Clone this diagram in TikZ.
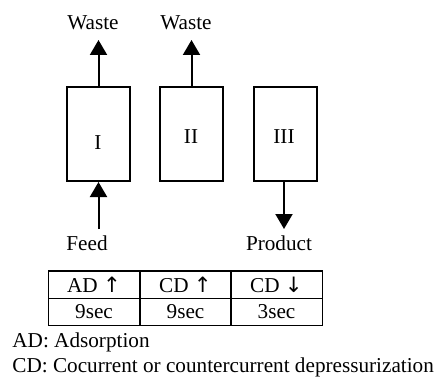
\documentclass[tikz,border=0pt]{standalone}
\usepackage{fontspec}
\setmainfont{Liberation Serif}
\newfontfamily\arrowfont{DejaVu Sans}
\usepackage{tikz}
\usetikzlibrary{arrows}
\usetikzlibrary{arrows.meta}
\usetikzlibrary{positioning}
\newcommand{\upflow}{{\arrowfont\char"2191}}
\newcommand{\downflow}{{\arrowfont\char"2193}}

\begin{document}
\begin{tikzpicture}[x=0.5pt, y=-0.5pt, font=\fontsize{10.6}{12.7}\selectfont,
    column/.style={draw, line width=1pt, minimum width=31.5pt, minimum height=47pt, inner sep=0pt},
    cell/.style={draw, line width=0.7pt, minimum width=45.7pt, minimum height=13.7pt, inner sep=0pt},
    flow/.style={line width=1pt, -{Triangle[width=8.5pt, length=7.5pt]}}]

    \useasboundingbox (0, 0) rectangle (438, 379);

    % beds
    \node [column] (c1) at (98.5, 134) {};
    \node [column] (c2) at (191.5, 134) {};
    \node [column] (c3) at (285, 134) {};
    \node (l1) at (98, 143) {I};
    \node (l2) at (191, 137) {II};
    \node (l3) at (284, 137) {III};

    % streams
    \node (w1) at (93, 23) {Waste};
    \node (w2) at (186, 23) {Waste};
    \node (feed) at (87, 243) {Feed};
    \node (prod) at (279, 243) {Product};
    \coordinate (w1tip) at (98.5, 40);
    \coordinate (w2tip) at (191.5, 40);
    \coordinate (feedtail) at (98.5, 229);
    \coordinate (prodtip) at (284, 229);

    \draw [flow] (c1.north) -- (w1tip);
    \draw [flow] (c2.north) -- (w2tip);
    \draw [flow] (feedtail) -- (c1.south);
    \draw [flow] (c3.south -| prodtip) -- (prodtip);

    % step table
    \node [cell] (s1) at (94, 284.5) {AD \upflow};
    \node [cell] (s2) at (185.5, 284.5) {CD \upflow};
    \node [cell] (s3) at (276.5, 284.5) {CD \downflow};
    \node [cell] (t1) at (94, 312) {9sec};
    \node [cell] (t2) at (185.5, 312) {9sec};
    \node [cell] (t3) at (276.5, 312) {3sec};

    % legend
    \node [anchor=west, inner sep=0pt] (ad) at (12, 342) {AD: Adsorption};
    \node [anchor=west, inner sep=0pt] (cd) at (12, 367)
    {CD: Cocurrent or countercurrent depressurization};

  \end{tikzpicture}
\end{document}
